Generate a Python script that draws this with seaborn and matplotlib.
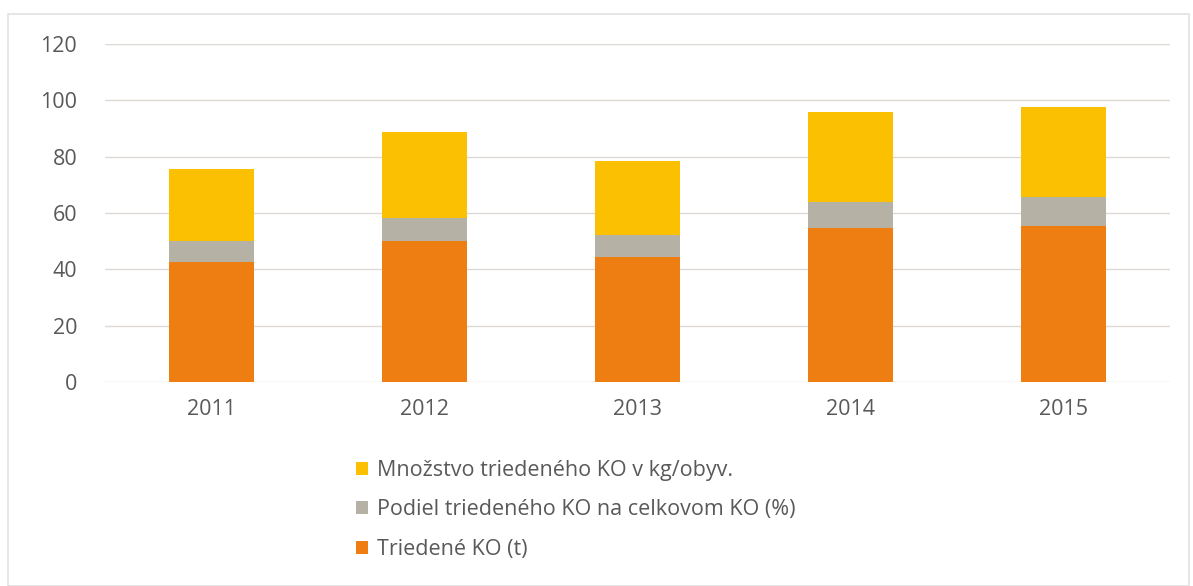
import pandas as pd
import matplotlib.pyplot as plt
import seaborn as sns
from matplotlib.patches import Patch, Rectangle

# values (stacked segments)
years = ['2011', '2012', '2013', '2014', '2015']
triedene_t = [42.7, 50.0, 44.4, 54.8, 55.5]
podiel_pct = [7.5, 8.4, 7.7, 9.0, 10.1]
mnozstvo_kg = [25.4, 30.2, 26.5, 32.2, 31.9]

labels = ['Množstvo triedeného KO v kg/obyv.',
          'Podiel triedeného KO na celkovom KO (%)',
          'Triedené KO (t)']
colors = ['#FBC002', '#B5B1A5', '#EE7D12']

df = pd.DataFrame({'year': years, 'orange': triedene_t,
                   'gray': podiel_pct, 'yellow': mnozstvo_kg})
df['lvl1'] = df['orange']
df['lvl2'] = df['orange'] + df['gray']
df['lvl3'] = df['lvl2'] + df['yellow']

sns.set_style('white')
plt.rcParams['font.family'] = ['Open Sans', 'DejaVu Sans']

fig = plt.figure(figsize=(11.93, 5.86), dpi=100)
ax = fig.add_axes([0.088, 0.348, 0.893, 0.577])

# draw totals first, then lower levels on top
for col, c in zip(['lvl3', 'lvl2', 'lvl1'], colors):
    sns.barplot(x='year', y=col, data=df, color=c, width=0.4, saturation=1,
                linewidth=0, ax=ax, zorder=3)

ax.set_ylim(0, 120)
ax.set_xlim(-0.5, 4.5)
ax.set_yticks(range(0, 121, 20))
ax.yaxis.grid(True, color='#DDDAD6', linewidth=1)
ax.set_axisbelow(True)
sns.despine(ax=ax, left=True, bottom=True)
ax.set_xlabel('')
ax.set_ylabel('')
ax.tick_params(axis='both', length=0, labelsize=15.5, colors='#595959')
ax.tick_params(axis='y', pad=20)
ax.tick_params(axis='x', pad=12)

handles = [Patch(facecolor=c, edgecolor='none') for c in colors]
fig.legend(handles, labels, loc='upper left', bbox_to_anchor=(0.282, 0.248),
           frameon=False, fontsize=15.5, labelcolor='#595959',
           handlelength=0.55, handleheight=0.55, handletextpad=0.45,
           labelspacing=0.85)

# light outer frame like the original chart area
fig.patches.append(Rectangle((0.007, 0.0), 0.99, 0.976, transform=fig.transFigure,
                             fill=False, edgecolor='#E2E2E2', linewidth=1.2))

fig.savefig('out.png', dpi=100)
